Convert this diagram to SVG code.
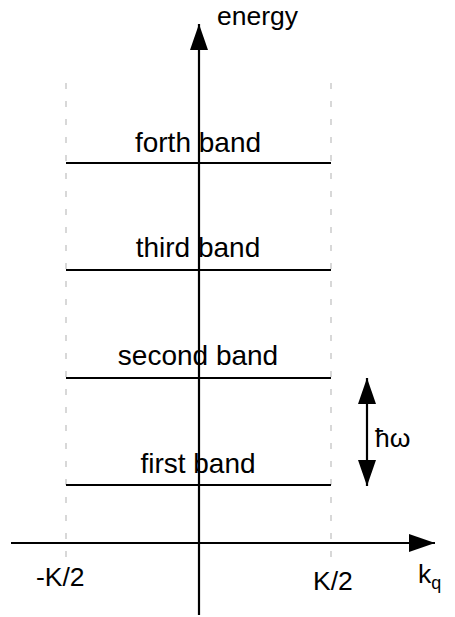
<svg xmlns="http://www.w3.org/2000/svg" width="455" height="617" viewBox="0 0 455 617">
  <style>
    .lbl { font-family: "Liberation Sans", Arial, sans-serif; font-size: 26.5px; fill: #000; }
    .blbl { font-family: "Liberation Sans", Arial, sans-serif; font-size: 28px; fill: #000; text-anchor: middle; }
    .band { stroke: #000; stroke-width: 2; }
    .axis { stroke: #000; stroke-width: 2.2; fill: none; }
    .zone { stroke: #c4c4c4; stroke-width: 1.3; stroke-dasharray: 6 12; }
  </style>
  <defs>
    <marker id="tip" viewBox="0 0 26 18" refX="26" refY="9" markerWidth="26" markerHeight="18" markerUnits="userSpaceOnUse" orient="auto-start-reverse">
      <path d="M0,0 L26,9 L0,18 Z" fill="#000"/>
    </marker>
  </defs>

  <!-- Brillouin zone boundaries -->
  <g id="zone-bounds">
    <line class="zone" x1="66" y1="83" x2="66" y2="560"/>
    <line class="zone" x1="331" y1="83" x2="331" y2="560"/>
  </g>

  <g id="connectors">
    <line class="axis" x1="199" y1="615" x2="199" y2="24" marker-end="url(#tip)"/>
    <line class="axis" x1="11" y1="543" x2="435" y2="543" marker-end="url(#tip)"/>
    <line class="axis" x1="367" y1="378" x2="367" y2="486" marker-start="url(#tip)" marker-end="url(#tip)"/>
  </g>

  <g id="band4">
    <line class="band" x1="66" y1="163" x2="331" y2="163"/>
    <text class="blbl" x="198" y="152">forth band</text>
  </g>
  <g id="band3">
    <line class="band" x1="66" y1="270" x2="331" y2="270"/>
    <text class="blbl" x="198" y="257">third band</text>
  </g>
  <g id="band2">
    <line class="band" x1="66" y1="378" x2="331" y2="378"/>
    <text class="blbl" x="198" y="365">second band</text>
  </g>
  <g id="band1">
    <line class="band" x1="66" y1="485" x2="331" y2="485"/>
    <text class="blbl" x="198" y="473">first band</text>
  </g>

  <g id="labels">
    <text class="lbl" x="217" y="25">energy</text>
    <text class="lbl" x="375" y="447">ħω</text>
    <text class="lbl" x="36" y="586">-K/2</text>
    <text class="lbl" x="313" y="590">K/2</text>
    <text class="lbl" x="418" y="583">k<tspan font-size="18" dy="6">q</tspan></text>
  </g>
</svg>
